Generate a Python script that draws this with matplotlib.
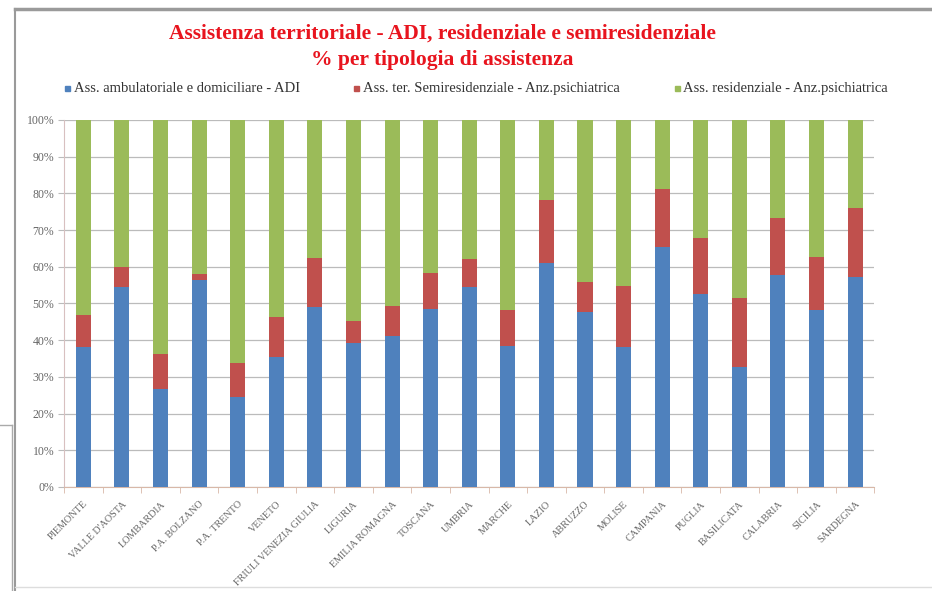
import matplotlib
matplotlib.use("Agg")
import matplotlib.pyplot as plt
from matplotlib.patches import Rectangle
from matplotlib.lines import Line2D
import numpy as np

# data (percentages)
regions = ["PIEMONTE", "VALLE D'AOSTA", "LOMBARDIA", "P.A. BOLZANO", "P.A. TRENTO",
           "VENETO", "FRIULI VENEZIA GIULIA", "LIGURIA", "EMILIA ROMAGNA", "TOSCANA",
           "UMBRIA", "MARCHE", "LAZIO", "ABRUZZO", "MOLISE", "CAMPANIA", "PUGLIA",
           "BASILICATA", "CALABRIA", "SICILIA", "SARDEGNA"]
adi = [38.2, 54.5, 26.8, 56.4, 24.5, 35.5, 49.1, 39.3, 41.2, 48.6, 54.5,
       38.5, 61.1, 47.7, 38.2, 65.3, 52.7, 32.6, 57.7, 48.2, 57.1]
semires_top = [46.8, 60.0, 36.1, 57.9, 33.8, 46.4, 62.3, 45.2, 49.3, 58.4, 62.0,
               48.2, 78.2, 55.9, 54.7, 81.2, 67.9, 51.6, 73.4, 62.6, 76.1]
semires = [t - a for t, a in zip(semires_top, adi)]
resid = [100 - t for t in semires_top]
series_names = ["Ass. ambulatoriale e domiciliare - ADI",
                "Ass. ter. Semiresidenziale - Anz.psichiatrica",
                "Ass. residenziale - Anz.psichiatrica"]
yticks = [0, 10, 20, 30, 40, 50, 60, 70, 80, 90, 100]

blue = "#4F81BD"
red = "#C0504D"
green = "#9BBB59"
serif = "Liberation Serif"

fig = plt.figure(figsize=(9.32, 5.91), dpi=100)
ax = fig.add_axes([0.0687, 0.176, 0.8695, 0.621])

x = np.arange(len(regions))
w = 0.39
ax.bar(x, adi, w, color=blue, zorder=3)
ax.bar(x, semires, w, bottom=adi, color=red, zorder=3)
ax.bar(x, resid, w, bottom=semires_top, color=green, zorder=3)

ax.set_xlim(-0.5, len(regions) - 0.5)
ax.set_ylim(0, 100)
ax.set_yticks(yticks)
ax.set_yticklabels([f"{v}%" for v in yticks], fontsize=8.5, family=serif, color="#666666")
ax.yaxis.grid(True, color="#BBBBBB", linewidth=0.9, zorder=0)
ax.set_xticks(x)
ax.set_xticklabels(regions, rotation=45, ha="right", rotation_mode="anchor",
                   fontsize=7.3, family=serif, color="#666666")
ax.tick_params(axis="x", length=0, pad=9)
ax.tick_params(axis="y", length=4, color="#BBBBBB", pad=3)
# minor ticks between categories on x axis
ax.set_xticks(np.arange(-0.5, len(regions), 1), minor=True)
ax.tick_params(axis="x", which="minor", length=4, color="#D8B8A8")
for s in ["top", "right"]:
    ax.spines[s].set_visible(False)
ax.spines["left"].set_color("#D8C0C0")
ax.spines["bottom"].set_color("#D8B8A8")

# title
fig.text(0.475, 0.944, "Assistenza territoriale - ADI, residenziale e semiresidenziale",
         ha="center", va="center", fontsize=15.5, family=serif, weight="bold", color="#E8141E")
fig.text(0.475, 0.899, "% per tipologia di assistenza",
         ha="center", va="center", fontsize=15.5, family=serif, weight="bold", color="#E8141E")

# legend
leg_x = [0.073, 0.383, 0.727]
for lx, name, c in zip(leg_x, series_names, [blue, red, green]):
    fig.patches.append(Rectangle((lx - 0.003, 0.846), 0.0055, 0.0085, color=c,
                                 transform=fig.transFigure))
    fig.text(lx + 0.006, 0.851, name, ha="left", va="center", fontsize=10.5,
             family=serif, color="#333333")

# chart frame pieces
fig.lines.append(Line2D([0.016, 0.016], [0.0, 0.985], color="#9A9A9A", linewidth=1.5,
                        transform=fig.transFigure))
fig.lines.append(Line2D([0.016, 1.0], [0.985, 0.985], color="#9A9A9A", linewidth=2.5,
                        transform=fig.transFigure))
fig.lines.append(Line2D([0.016, 1.0], [0.006, 0.006], color="#DDDDDD", linewidth=1,
                        transform=fig.transFigure))
fig.lines.append(Line2D([0.0, 0.013], [0.281, 0.281], color="#AAAAAA", linewidth=1,
                        transform=fig.transFigure))
fig.lines.append(Line2D([0.013, 0.013], [0.0, 0.281], color="#AAAAAA", linewidth=1,
                        transform=fig.transFigure))

fig.savefig("out.png", dpi=100)
